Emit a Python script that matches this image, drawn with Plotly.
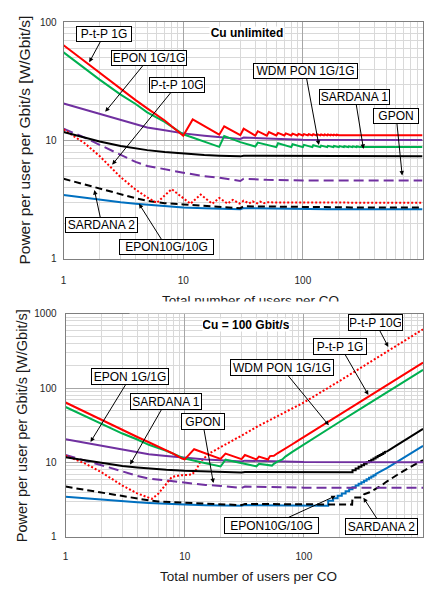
import math
import plotly.graph_objects as go

# ---------------- data ----------------
# P-t-P 1G (red solid): common head, then the two scenarios
PTP1G_HEAD_X = [1, 1.5, 2, 3, 4, 5, 7, 8, 9.5, 10, 12, 20, 22, 30, 32, 40, 42, 50]
PTP1G_HEAD_Y = [64, 46.6, 37.3, 27.4, 22, 18.7, 14.8, 13.2, 11.3, 11.0, 15.1, 11.2, 13.2, 11.1, 12.6, 11.0, 12.0, 11.0]
PTP1G_TOP_X = [52, 60, 62, 70, 72, 80, 82, 90, 92, 100, 102, 110, 112, 120, 122, 130, 132,
               140, 142, 150, 152, 160, 162, 170, 172, 180, 182, 190, 192, 200, 1000]
PTP1G_TOP_Y = [11.8, 11.05, 11.6, 11.05, 11.5, 11.05, 11.45, 11.05, 11.4, 11.05, 11.35, 11.05, 11.32,
               11.05, 11.3, 11.05, 11.28, 11.05, 11.26, 11.05, 11.25, 11.05, 11.24, 11.05, 11.23,
               11.05, 11.22, 11.05, 11.21, 11.1, 11.1]
PTP1G_BOT_X = [52, 56, 60, 66, 70, 80, 90, 100, 150, 200, 300, 500, 700, 1000]
PTP1G_BOT_Y = [12.2, 12.3, 13.3, 14.5, 15.5, 17.6, 19.8, 22, 33, 44, 66, 110, 154, 220]

# WDM PON 1G/1G (green solid)
WDM_HEAD_X = [1, 1.5, 2, 3, 4, 5, 7, 10, 15, 20, 22, 30, 40, 42]
WDM_HEAD_Y = [55.7, 40.8, 32.8, 24.5, 20.4, 17.3, 14.4, 11.3, 9.8, 8.85, 10.9, 9.7, 8.9, 9.6]
WDM_TOP_X = [60, 62, 80, 82, 100, 102, 120, 122, 140, 142, 160, 162, 180, 182, 200, 202,
             220, 222, 240, 242, 260, 262, 280, 282, 300, 1000]
WDM_TOP_Y = [8.8, 9.5, 8.8, 9.3, 8.8, 9.2, 8.8, 9.12, 8.8, 9.07, 8.8, 9.03, 8.8, 9.0, 8.8, 8.98,
             8.8, 8.96, 8.8, 8.94, 8.8, 8.93, 8.8, 8.92, 8.82, 8.82]
WDM_BOT_X = [54, 56, 60, 66, 70, 80, 90, 100, 150, 200, 300, 500, 700, 1000]
WDM_BOT_Y = [9.1, 9.6, 10.3, 11.0, 12.0, 13.9, 15.7, 17.6, 26.5, 35.3, 53, 88, 123, 176]

# EPON 1G/1G (purple solid) - same in both scenarios
EPON1G_X = [1, 1.5, 2, 3, 4, 5, 7, 10, 15, 20, 30, 32, 50, 63, 65, 100, 1000]
EPON1G_Y = [20.6, 18.3, 16.8, 14.9, 13.6, 12.9, 12.2, 11.5, 11.0, 10.7, 10.3, 10.6, 10.35, 10.2, 10.3, 10.15, 10.1]

# SARDANA 1 (black solid)
SAR1_HEAD_X = [1, 1.5, 2, 3, 4, 5, 7, 10, 15, 20, 30, 32, 100, 256]
SAR1_HEAD_Y = [11.8, 10.6, 9.8, 9.0, 8.6, 8.3, 8.0, 7.75, 7.55, 7.45, 7.35, 7.45, 7.4, 7.4]
SAR1_TOP_X = [1000]
SAR1_TOP_Y = [7.35]
SAR1_BOT_X = [256, 272, 272, 288, 288, 304, 304, 320, 320, 336, 336, 352, 352, 368, 368,
              384, 384, 400, 400, 416, 416, 432, 432, 448, 448, 464, 464, 480, 480,
              500, 600, 700, 800, 900, 1000]
SAR1_BOT_Y = [7.9, 7.9, 8.33, 8.33, 8.76, 8.76, 9.19, 9.19, 9.62, 9.62, 10.05, 10.05, 10.48, 10.48, 10.91,
              10.91, 11.34, 11.34, 11.77, 11.77, 12.2, 12.2, 12.63, 12.63, 13.06, 13.06, 13.49, 13.49, 13.92,
              14.1, 17.0, 19.8, 22.6, 25.5, 28.3]

# EPON10G/10G (blue solid)
EPON10_HEAD_X = [1, 1.5, 2, 3, 4, 5, 7, 10, 15, 20, 30, 32, 60, 100, 160]
EPON10_HEAD_Y = [3.46, 3.27, 3.15, 3.0, 2.92, 2.86, 2.78, 2.72, 2.67, 2.64, 2.62, 2.68, 2.65, 2.63, 2.62]
EPON10_TOP_X = [1000]
EPON10_TOP_Y = [2.62]
EPON10_BOT_X = [160, 176, 176, 192, 192, 208, 208, 224, 224, 240, 240, 256, 256, 272, 272, 288, 288,
                304, 304, 320, 320, 336, 336, 352, 352, 368, 368, 384, 384, 400, 400,
                450, 500, 600, 700, 800, 900, 1000]
EPON10_BOT_Y = [3.07, 3.07, 3.32, 3.32, 3.58, 3.58, 3.85, 3.85, 4.11, 4.11, 4.38, 4.38, 4.64, 4.64, 4.9, 4.9, 5.17,
                5.17, 5.43, 5.43, 5.7, 5.7, 5.96, 5.96, 6.23, 6.23, 6.5, 6.5, 6.76, 6.76, 7.0,
                7.7, 8.5, 10.1, 11.7, 13.3, 15.0, 16.7]

# SARDANA 2 (black dashed)
SAR2_HEAD_X = [1, 1.5, 2, 3, 4, 5, 6, 7, 10, 15, 20, 30, 32, 100, 254]
SAR2_HEAD_Y = [4.75, 4.25, 3.92, 3.5, 3.25, 3.1, 3.0, 2.95, 2.88, 2.8, 2.76, 2.68, 2.78, 2.73, 2.72]
SAR2_TOP_X = [1000]
SAR2_TOP_Y = [2.72]
SAR2_BOT_X = [256, 310, 320, 352, 384, 416, 448, 480, 512, 600, 700, 800, 900, 1000]
SAR2_BOT_Y = [3.4, 3.4, 3.75, 3.95, 4.25, 4.55, 4.9, 5.35, 5.75, 6.75, 7.85, 8.85, 9.85, 10.8]

# GPON (purple dashed) - same in both scenarios
GPON_X = [1, 1.5, 2, 3, 4, 5, 7, 10, 15, 20, 30, 32, 50, 100, 1000]
GPON_Y = [12.6, 10.6, 9.2, 7.6, 6.6, 6.1, 5.7, 5.35, 5.0, 4.85, 4.55, 4.75, 4.65, 4.6, 4.6]

# P-t-P 10G (red dotted)
PTP10_HEAD_X = [1, 1.5, 2, 3, 4, 5]
PTP10_HEAD_Y = [12.4, 9.5, 7.4, 4.9, 3.85, 3.3]
PTP10_TOP_X = [6, 8, 11.5, 14, 17.5, 20, 23.5, 26, 29.5, 32, 35.5, 38, 41.5, 44, 47.5, 50, 1000]
PTP10_TOP_Y = [2.97, 3.88, 2.92, 3.49, 2.92, 3.27, 2.93, 3.15, 2.93, 3.1, 2.94, 3.06, 2.94, 3.04, 2.95, 3.0, 2.97]
PTP10_BOT_X = [5.3, 6, 7, 7.8, 9, 11.5, 12.5, 13.5, 16, 20, 30, 40, 58, 100, 200, 500, 1000]
PTP10_BOT_Y = [3.25, 3.8, 5.2, 6.4, 6.7, 6.9, 8.0, 10.2, 13.2, 16, 23, 30, 41, 64, 125, 310, 616]

TICK_VALS = [1, 10, 100, 1000]
TICK_TEXT = ["1", "10", "100", "1000"]
X_TITLE = "Total number of users per CO"
Y_TITLE = "Power per user per Gbit/s [W/Gbit/s]"

# labels: text, box centre (px), arrow tip (data), box width (px)
TOP_LABELS = [
    ("P-t-P 1G", 102, 29.4, 1.64, 46, 56),
    ("EPON 1G/1G", 147, 54, 2.23, 17.5, 76),
    ("P-t-P 10G", 175, 82, 2.55, 6.25, 56),
    ("WDM PON 1G/1G", 304.5, 68, 136, 9.17, 105),
    ("SARDANA 1", 354.5, 93.5, 321, 8.5, 71),
    ("GPON", 396, 113.5, 676, 5.07, 46),
    ("SARDANA 2", 99.5, 222.5, 1.81, 3.81, 73),
    ("EPON10G/10G", 164.5, 245.5, 4.27, 2.92, 95),
]
BOT_LABELS = [
    ("P-t-P 10G", 375.5, 324, 511, 357, 55),
    ("P-t-P 1G", 340, 348.5, 348, 80.9, 54),
    ("WDM PON 1G/1G", 281, 370.5, 162, 31.6, 104),
    ("EPON 1G/1G", 128, 380, 1.62, 18.9, 78),
    ("SARDANA 1", 164, 405, 3.48, 9.4, 72),
    ("GPON", 201, 425, 17.4, 5.3, 44),
    ("EPON10G/10G", 270.5, 529.5, 185, 3.57, 95),
    ("SARDANA 2", 381.5, 530.5, 316, 3.36, 73),
]

# ---------------- layout geometry ----------------
W, H = 426, 590
FONT = "Liberation Sans, Arial, sans-serif"
TOP = dict(x0=61, x1=422.5, y0=16.7, y1=258, ydec=2)
BOT = dict(x0=63, x1=423, y0=314, y1=542, ydec=3)

RED, GREEN, PURPLE, BLACK, BLUE = "#ff0000", "#00b050", "#7030a0", "#000000", "#0070c0"

fig = go.Figure()


def add(xs, ys, color, dash, width, xa, ya):
    fig.add_trace(go.Scatter(x=xs, y=ys, mode="lines", xaxis=xa, yaxis=ya,
                             line=dict(color=color, dash=dash, width=width),
                             showlegend=False, hoverinfo="skip"))


for (xa, ya, part) in [("x", "y", "TOP"), ("x2", "y2", "BOT")]:
    top = part == "TOP"
    add(EPON10_HEAD_X + (EPON10_TOP_X if top else EPON10_BOT_X),
        EPON10_HEAD_Y + (EPON10_TOP_Y if top else EPON10_BOT_Y), BLUE, "solid", 2, xa, ya)
    add(SAR2_HEAD_X + (SAR2_TOP_X if top else SAR2_BOT_X),
        SAR2_HEAD_Y + (SAR2_TOP_Y if top else SAR2_BOT_Y), BLACK, "7px,4px", 2, xa, ya)
    add(GPON_X, GPON_Y, PURPLE, "10px,5px", 2, xa, ya)
    add(PTP10_HEAD_X + (PTP10_TOP_X if top else PTP10_BOT_X),
        PTP10_HEAD_Y + (PTP10_TOP_Y if top else PTP10_BOT_Y), RED, "2px,2px", 2, xa, ya)
    add(SAR1_HEAD_X + (SAR1_TOP_X if top else SAR1_BOT_X),
        SAR1_HEAD_Y + (SAR1_TOP_Y if top else SAR1_BOT_Y), BLACK, "solid", 2, xa, ya)
    add(EPON1G_X, EPON1G_Y, PURPLE, "solid", 2, xa, ya)
    add(WDM_HEAD_X + (WDM_TOP_X if top else WDM_BOT_X),
        WDM_HEAD_Y + (WDM_TOP_Y if top else WDM_BOT_Y), GREEN, "solid", 2, xa, ya)
    add(PTP1G_HEAD_X + (PTP1G_TOP_X if top else PTP1G_BOT_X),
        PTP1G_HEAD_Y + (PTP1G_TOP_Y if top else PTP1G_BOT_Y), RED, "solid", 2, xa, ya)


def axis_common():
    return dict(type="log", showgrid=True, gridcolor="#a6a6a6", gridwidth=1,
                minor=dict(tickmode="linear", dtick="D1", showgrid=True,
                           gridcolor="#d9d9d9", gridwidth=1, ticks=""),
                showline=True, linecolor="#7f7f7f", linewidth=1, mirror=True,
                ticks="", zeroline=False, tickmode="array",
                tickvals=TICK_VALS, ticktext=TICK_TEXT,
                tickfont=dict(family=FONT, size=10, color="#262626"))


def xdom(g):
    return [g["x0"] / W, g["x1"] / W]


def ydom(g):
    return [1 - g["y1"] / H, 1 - g["y0"] / H]


fig.update_layout(
    width=W, height=H, margin=dict(l=0, r=0, t=0, b=0), autosize=False,
    paper_bgcolor="white", plot_bgcolor="white",
    xaxis=dict(**axis_common(), domain=xdom(TOP), range=[0, 3], anchor="y", ticklabelstandoff=12),
    yaxis=dict(**axis_common(), domain=ydom(TOP), range=[0, 2], anchor="x", ticklabelstandoff=4),
    xaxis2=dict(**axis_common(), domain=xdom(BOT), range=[0, 3], anchor="y2", ticklabelstandoff=10),
    yaxis2=dict(**axis_common(), domain=ydom(BOT), range=[0, 3], anchor="x2", ticklabelstandoff=6),
)


def data_to_px(g, x, y):
    px = g["x0"] + (g["x1"] - g["x0"]) * math.log10(x) / 3
    py = g["y1"] - (g["y1"] - g["y0"]) * math.log10(y) / g["ydec"]
    return px, py


annotations = []
for labels, g, xr, yr, h in [(TOP_LABELS, TOP, "x", "y", 12), (BOT_LABELS, BOT, "x2", "y2", 13)]:
    for text, cx, cy, tx, ty, w in labels:
        tpx, tpy = data_to_px(g, tx, ty)
        annotations.append(dict(
            text=text, xref=xr, yref=yr, x=math.log10(tx), y=math.log10(ty),
            axref="pixel", ayref="pixel", ax=cx - tpx, ay=cy - tpy,
            showarrow=True, arrowhead=2, arrowsize=0.9, arrowwidth=1, arrowcolor="black",
            standoff=0, bgcolor="white", bordercolor="black", borderwidth=1, borderpad=1,
            width=w - 4, height=h, font=dict(family=FONT, size=12, color="black")))


def paper_note(text, cx, cy, **kw):
    d = dict(text=text, xref="paper", yref="paper", x=cx / W, y=1 - cy / H,
             xanchor="center", yanchor="middle", showarrow=False)
    d.update(kw)
    return d


# scenario titles
for text, cx, cy, w in [("Cu unlimited", 246, 28, 74), ("Cu = 100 Gbit/s", 245, 326, 86)]:
    annotations.append(paper_note("<b>" + text + "</b>", cx, cy, bgcolor="white",
                                  width=w, height=12, borderpad=0,
                                  font=dict(family=FONT, size=12, color="black")))

# axis titles
annotations.append(paper_note(X_TITLE, 249, 300.5, font=dict(family=FONT, size=13.5, color="#1a1a1a")))
# white cover hiding the lower half of the upper x title (as in the picture)
annotations.append(paper_note(" ", 249, 307.5, bgcolor="white", width=240, height=11,
                              borderpad=0, font=dict(size=8)))
annotations.append(paper_note(X_TITLE, 247.5, 582, font=dict(family=FONT, size=13.5, color="#1a1a1a")))
annotations.append(paper_note(Y_TITLE, 22, 136.5, textangle=-90,
                              font=dict(family=FONT, size=15.5, color="#1a1a1a")))
annotations.append(paper_note(Y_TITLE, 19, 428, textangle=-90,
                              font=dict(family=FONT, size=14.5, color="#1a1a1a")))

fig.update_layout(annotations=annotations)
fig.write_html("out.html", config={"responsive": False, "displayModeBar": False},
               post_script="document.body.style.margin='0px';document.body.style.padding='0px';")
